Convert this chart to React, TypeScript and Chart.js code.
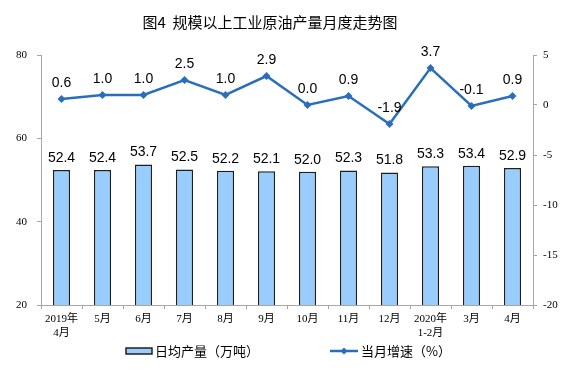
import React, { useEffect, useRef } from "react";
import { Chart, registerables } from "chart.js";

Chart.register(...registerables);

const categories: string[][] = [
  ["2019年", "4月"], ["5月"], ["6月"], ["7月"], ["8月"], ["9月"], ["10月"], ["11月"], ["12月"],
  ["2020年", "1-2月"], ["3月"], ["4月"],
];
const dailyOutput: number[] = [52.4, 52.4, 53.7, 52.5, 52.2, 52.1, 52.0, 52.3, 51.8, 53.3, 53.4, 52.9];
const growthRate: number[] = [0.6, 1.0, 1.0, 2.5, 1.0, 2.9, 0.0, 0.9, -1.9, 3.7, -0.1, 0.9];
const leftTicks = { min: 20, max: 80, step: 20 };
const rightTicks = { min: -20, max: 5, step: 5 };
const titleText = "图4  规模以上工业原油产量月度走势图";
const legendBar = "日均产量（万吨）";
const legendLine = "当月增速（%）";

const BAR_FILL = "#99CCFF";
const BAR_BORDER = "#1f1f1f";
const LINE_COLOR = "#2A6EBB";
const AXIS_COLOR = "#A6A6A6";
const SERIF = "'Liberation Serif', 'Noto Sans CJK SC', serif";
const SANS = "'Liberation Sans', Arial, sans-serif";
const CJK = "'Noto Sans CJK SC', sans-serif";

const overlayPlugin = {
  id: "overlay",
  afterDatasetsDraw(chart: any) {
    const ctx = chart.ctx;
    ctx.save();
    const barMeta = chart.getDatasetMeta(0);
    ctx.fillStyle = "#000";
    ctx.font = `14px ${SANS}`;
    ctx.textAlign = "center";
    ctx.textBaseline = "bottom";
    barMeta.data.forEach((el: any, i: number) => {
      ctx.fillText(dailyOutput[i].toFixed(1), el.x, el.y - 5);
    });
    const lineMeta = chart.getDatasetMeta(1);
    lineMeta.data.forEach((el: any, i: number) => {
      ctx.fillText(growthRate[i].toFixed(1), el.x, el.y - 9);
    });
    ctx.font = `15px ${CJK}`;
    ctx.textBaseline = "middle";
    ctx.fillText(titleText, 270, 22);
    const ly = 351;
    ctx.fillStyle = BAR_FILL;
    ctx.strokeStyle = BAR_BORDER;
    ctx.lineWidth = 1.5;
    ctx.fillRect(126, 348, 26, 6);
    ctx.strokeRect(126, 348, 26, 6);
    ctx.fillStyle = "#000";
    ctx.font = `13px ${CJK}`;
    ctx.textAlign = "left";
    ctx.fillText(legendBar, 155, ly);
    ctx.strokeStyle = LINE_COLOR;
    ctx.lineWidth = 2.5;
    ctx.beginPath();
    ctx.moveTo(330, ly);
    ctx.lineTo(358, ly);
    ctx.stroke();
    ctx.fillStyle = LINE_COLOR;
    ctx.beginPath();
    ctx.moveTo(344, ly - 3.5);
    ctx.lineTo(347.5, ly);
    ctx.lineTo(344, ly + 3.5);
    ctx.lineTo(340.5, ly);
    ctx.closePath();
    ctx.fill();
    ctx.fillStyle = "#000";
    ctx.fillText(legendLine, 361, ly);
    ctx.restore();
  },
};

export default function App() {
  const ref = useRef<HTMLCanvasElement | null>(null);
  useEffect(() => {
    document.body.style.margin = "0";
    if (!ref.current) return;
    const chart = new Chart(ref.current, {
      type: "bar",
      data: {
        labels: categories,
        datasets: [
          {
            type: "bar",
            label: legendBar,
            data: dailyOutput,
            backgroundColor: BAR_FILL,
            borderColor: BAR_BORDER,
            borderWidth: 1.5,
            categoryPercentage: 1,
            barPercentage: 0.42,
            yAxisID: "y",
            order: 2,
          },
          {
            type: "line",
            label: legendLine,
            data: growthRate,
            borderColor: LINE_COLOR,
            backgroundColor: LINE_COLOR,
            borderWidth: 2.5,
            pointStyle: "rectRot",
            pointRadius: 4,
            pointBorderWidth: 0,
            tension: 0,
            yAxisID: "y1",
            order: 1,
          },
        ] as any,
      },
      options: {
        animation: false,
        responsive: false,
        maintainAspectRatio: false,
        layout: { padding: { top: 55, left: 0, right: 0, bottom: 0 } },
        plugins: {
          legend: { display: false },
          title: { display: false },
          tooltip: { enabled: false },
        },
        scales: {
          x: {
            offset: true,
            grid: { display: true, drawOnChartArea: false, drawTicks: true, tickLength: 4, color: AXIS_COLOR, offset: true },
            border: { display: true, color: AXIS_COLOR, width: 1 },
            ticks: { color: "#000", font: { size: 11, family: SERIF, lineHeight: 1.2 }, padding: 4, maxRotation: 0, autoSkip: false },
            afterFit: (s: any) => { s.height = 79; },
          },
          y: {
            position: "left",
            min: leftTicks.min,
            max: leftTicks.max,
            ticks: { stepSize: leftTicks.step, color: "#000", font: { size: 11, family: SERIF }, padding: 10 },
            grid: { display: true, drawOnChartArea: false, drawTicks: true, tickLength: 4, color: AXIS_COLOR },
            border: { display: true, color: AXIS_COLOR, width: 1 },
            afterFit: (s: any) => { s.width = 41; },
          },
          y1: {
            position: "right",
            min: rightTicks.min,
            max: rightTicks.max,
            ticks: { stepSize: rightTicks.step, color: "#000", font: { size: 11, family: SERIF }, padding: 6 },
            grid: { display: true, drawOnChartArea: false, drawTicks: true, tickLength: 4, color: AXIS_COLOR },
            border: { display: true, color: AXIS_COLOR, width: 1 },
            afterFit: (s: any) => { s.width = 43; },
          },
        },
      },
      plugins: [overlayPlugin],
    });
    return () => chart.destroy();
  }, []);
  return (
    <div style={{ width: 576, height: 384, background: "#fff" }}>
      <canvas ref={ref} width={576} height={384} style={{ display: "block", width: 576, height: 384 }} />
    </div>
  );
}
